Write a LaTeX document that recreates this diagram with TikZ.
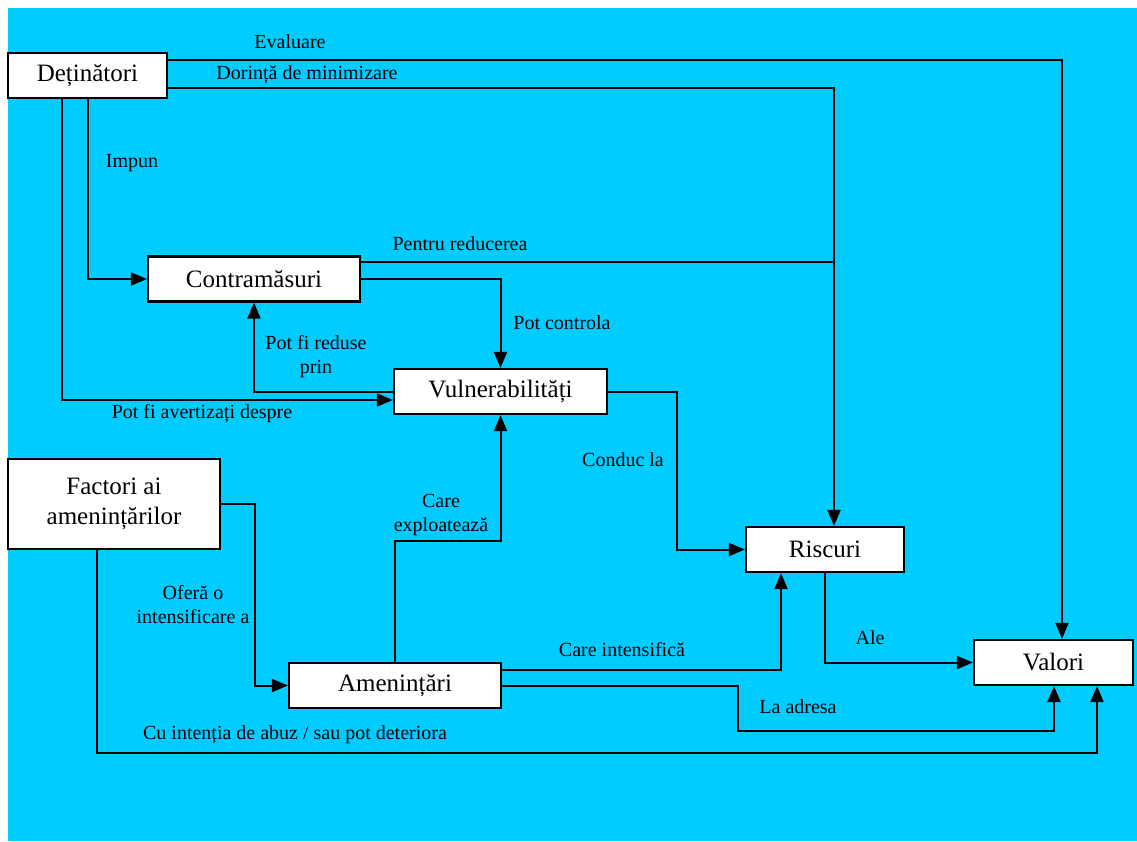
\documentclass[tikz,border=0pt]{standalone}
\usepackage{fontspec}
\setmainfont{Liberation Serif}
\usepackage{tikz}
\usetikzlibrary{arrows.meta}
\definecolor{fundal}{HTML}{00CCFF}

\begin{document}
\begin{tikzpicture}[x=1pt, y=-1pt, line width=2pt,
	box/.style={draw, line width=2.2pt, fill=white, inner sep=0pt, minimum height=45pt, align=center, font=\fontsize{25}{30}\selectfont},
	lbl/.style={inner sep=0pt, align=center, font=\fontsize{20}{24}\selectfont},
	arr/.style={-{Triangle[length=16pt, width=13pt]}}]
			\useasboundingbox (0,0) rectangle (1137,841);
			\fill[fundal] (8,8) rectangle (1137,841);

			\node[box, minimum width=159pt] (det) at (87.5,75.5) {Deținători};
			\node[box, minimum width=212pt] (cm) at (254,279) {Contramăsuri};
			\node[box, minimum width=213pt] (vul) at (500.5,391.5) {Vulnerabilități};
			\node[box, minimum width=212pt, minimum height=90pt] (fac) at (114,504) {Factori ai\\amenințărilor};
			\node[box, minimum width=212pt] (ame) at (395,685.5) {Amenințări};
			\node[box, minimum width=158pt] (ris) at (825,549.5) {Riscuri};
			\node[box, minimum width=159pt] (val) at (1053.5,662.5) {Valori};

			\coordinate (evC) at (1062,60);
			\coordinate (doC) at (834,88);
			\coordinate (reC) at (834,262);
			\coordinate (imC) at (88,279);
			\coordinate (avC) at (62,400);
			\coordinate (coC) at (677,392);
			\coordinate (ofC) at (255,504);
			\coordinate (exC) at (395,541);
			\coordinate (inC) at (781,670);
			\coordinate (adC) at (738,685);
			\coordinate (adD) at (1054,731);
			\coordinate (abC) at (97,753);
			\coordinate (abD) at (1097,753);

			\draw[arr] (det.east |- evC) -- (evC) -- (evC |- val.north);
			\draw[arr] (det.east |- doC) -- (doC) -- (doC |- ris.north);
			\draw (cm.east |- reC) -- (reC);
			\draw[arr] (det.south -| imC) -- (imC) -- (cm.west);
			\draw[arr] (det.south -| avC) -- (avC) -- (avC -| vul.west);
			\draw[arr] (cm.east) -- (cm.east -| vul.north) -- (vul.north);
			\draw[arr] (vul.west) -- (vul.west -| cm.south) -- (cm.south);
			\draw[arr] (vul.east) -- (vul.east -| coC) -- (coC |- ris.west) -- (ris.west);
			\draw[arr] (fac.east) -- (fac.east -| ofC) -- (ofC |- ame.west) -- (ame.west);
			\draw[arr] (ame.north) -- (ame.north |- exC) -- (exC -| vul.south) -- (vul.south);
			\draw[arr] (ame.east |- inC) -- (inC) -- (inC |- ris.south);
			\draw[arr] (ame.east) -- (ame.east -| adC) -- (adC |- adD) -- (adD) -- (adD |- val.south);
			\draw[arr] (fac.south -| abC) -- (abC) -- (abD) -- (abD |- val.south);
			\draw[arr] (ris.south) -- (ris.south |- val.west) -- (val.west);

			\node[lbl] (tEval) at (290,42) {Evaluare};
			\node[lbl] (tDor) at (307,75) {Dorință de minimizare};
			\node[lbl] (tImp) at (132,163) {Impun};
			\node[lbl] (tRed) at (460,244) {Pentru reducerea};
			\node[lbl] (tCtl) at (562,323) {Pot controla};
			\node[lbl] (tPrin) at (316,357) {Pot fi reduse\\prin};
			\node[lbl] (tAv) at (202,414) {Pot fi avertizați despre};
			\node[lbl] (tCon) at (623,460) {Conduc la};
			\node[lbl] (tExp) at (441,515) {Care\\exploatează};
			\node[lbl] (tOf) at (193,605) {Oferă o\\intensificare a};
			\node[lbl] (tAb) at (295,735) {Cu intenția de abuz / sau pot deteriora};
			\node[lbl] (tInt) at (622,650) {Care intensifică};
			\node[lbl] (tAdr) at (798,707) {La adresa};
			\node[lbl] (tAle) at (870,638) {Ale};
\end{tikzpicture}
\end{document}
